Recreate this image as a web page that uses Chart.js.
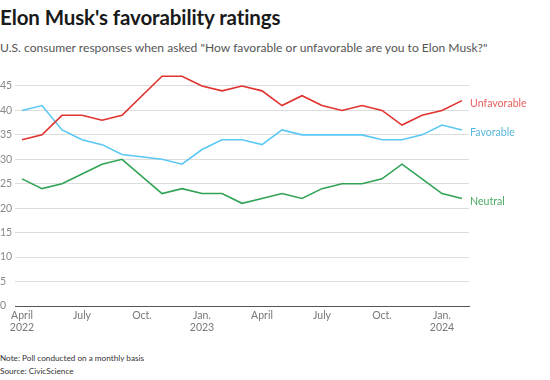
<!DOCTYPE html>
<html><head><meta charset="utf-8">
<script src="https://cdn.jsdelivr.net/npm/chart.js@4"></script>
<style>
html,body{margin:0;padding:0;background:#fff;}
#wrap{position:relative;width:550px;height:380px;font-family:Lato,"Open Sans",sans-serif;}
#title{position:absolute;left:0;top:5px;font-size:20.5px;font-weight:700;color:#1a1a1a;letter-spacing:-0.1px;}
#sub{position:absolute;left:0;top:40px;font-size:12.1px;color:#555;}
#note{position:absolute;left:0;top:352px;font-size:8.2px;color:#333;line-height:13px;}
#cw{position:absolute;left:0;top:62px;width:550px;height:280px;}
</style></head>
<body><div id="wrap">
<div id="title">Elon Musk's favorability ratings</div>
<div id="sub">U.S. consumer responses when asked "How favorable or unfavorable are you to Elon Musk?"</div>
<div id="cw"><canvas id="c" width="550" height="280"></canvas></div>
<div id="note">Note: Poll conducted on a monthly basis<br>Source: CivicScience</div>
</div>
<script>
const months = ["Apr 2022","May 2022","Jun 2022","Jul 2022","Aug 2022","Sep 2022","Oct 2022","Nov 2022","Dec 2022","Jan 2023","Feb 2023","Mar 2023","Apr 2023","May 2023","Jun 2023","Jul 2023","Aug 2023","Sep 2023","Oct 2023","Nov 2023","Dec 2023","Jan 2024","Feb 2024"];
const unfavorable = [34,35,39,39,38,39,null,47,47,45,44,45,44,41,43,41,40,41,40,37,39,40,42];
const favorable   = [40,41,36,34,33,31,null,30,29,32,34,34,33,36,35,35,35,35,34,34,35,37,36];
const neutral     = [26,24,25,27,29,30,null,23,24,23,23,21,22,23,22,24,25,25,26,29,26,23,22];
const tickLabels = {0:["April","2022"],3:["July"],6:["Oct."],9:["Jan.","2023"],12:["April"],15:["July"],18:["Oct."],21:["Jan.","2024"]};
const seriesNames = ["Unfavorable","Favorable","Neutral"];
const colors = ["#e0322e","#5ac8f5","#31a354"];
const labelColors = ["#e86060","#5ab8dc","#4aaa66"];

const toXY = arr => arr.map((v,i)=>({x:i,y:v}));

const endLabels = {
  id:'endLabels',
  afterDatasetsDraw(chart){
    const ctx = chart.ctx;
    ctx.save();
    ctx.font = '10.6px Lato, "Open Sans", sans-serif';
    ctx.textBaseline = 'middle';
    chart.data.datasets.forEach((ds,i)=>{
      const meta = chart.getDatasetMeta(i);
      const pt = meta.data[meta.data.length-1];
      ctx.fillStyle = labelColors[i];
      ctx.fillText(seriesNames[i], chart.chartArea.right + 1, pt.y + 3);
    });
    ctx.restore();
  }
};

new Chart(document.getElementById('c'), {
  type:'line',
  data:{
    datasets:[unfavorable,favorable,neutral].map((d,i)=>({
      label:seriesNames[i], data:toXY(d), borderColor:colors[i], borderWidth:1.6,
      pointRadius:0, tension:0, spanGaps:true, fill:false
    }))
  },
  options:{
    responsive:false, animation:false,
    layout:{padding:{left:0,right:81,top:7,bottom:0}},
    plugins:{legend:{display:false},tooltip:{enabled:false}},
    scales:{
      x:{type:'linear', min:-0.35, max:22.35,
        afterBuildTicks(axis){ axis.ticks = Object.keys(tickLabels).map(k=>({value:+k})); },
        afterFit(axis){ axis.height = 36; },
        grid:{display:false, drawTicks:false},
        border:{display:true,color:'#555',width:1},
        ticks:{autoSkip:false, maxRotation:0, color:'#777', font:{size:10.5, family:'Lato, "Open Sans", sans-serif'}, padding:3,
          callback:(v)=>tickLabels[v]||''}
      },
      y:{min:0, max:48,
        afterBuildTicks(axis){ axis.ticks = axis.ticks.filter(t=>t.value%5===0); },
        afterFit(axis){ axis.width = 15; },
        grid:{color:(c)=>c.tick&&c.tick.value===0?'#555':'#dcdcdc', drawTicks:false, lineWidth:1},
        border:{display:false},
        ticks:{stepSize:5, color:'#888', crossAlign:'far', padding:3, font:{size:10.5, family:'Lato, "Open Sans", sans-serif'}}
      }
    }
  },
  plugins:[endLabels]
});
</script>
</body></html>
